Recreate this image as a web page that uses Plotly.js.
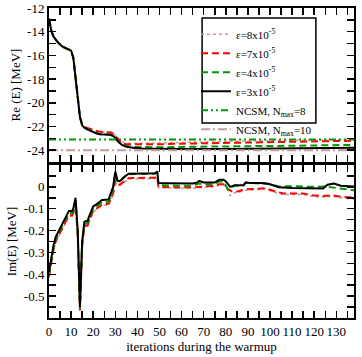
<!DOCTYPE html>
<html>
<head>
<meta charset="utf-8">
<script src="https://cdn.plot.ly/plotly-3.0.1.min.js"></script>
<style>
  html, body { margin: 0; padding: 0; background: white; }
  #chart { width: 362px; height: 357px; }
</style>
</head>
<body>
<div id="chart"></div>
<script>
// Re(E) curves
const reX3 = [0, 1, 2, 4, 6, 8, 10, 11, 12, 13, 14, 15, 16, 17, 19, 21, 23, 26, 28, 29, 30, 31, 32, 33, 35, 38, 42, 50, 60, 80, 100, 110, 120, 130, 138];
const reY3 = [-12.9, -13.9, -14.4, -14.9, -15.25, -15.45, -15.6, -16.2, -17.8, -19.8, -21.2, -21.9, -22.1, -22.2, -22.4, -22.55, -22.65, -22.7, -22.7, -22.8, -22.95, -23.2, -23.4, -23.55, -23.7, -23.8, -23.85, -23.88, -23.9, -23.9, -23.88, -23.85, -23.85, -23.8, -23.8];

const reX4 = [0, 1, 2, 4, 6, 8, 10, 11, 12, 13, 14, 15, 16, 17, 19, 21, 23, 26, 28, 29, 30, 31, 32, 33, 35, 38, 42, 50, 60, 80, 100, 120, 138];
const reY4 = [-12.9, -13.9, -14.4, -14.9, -15.25, -15.45, -15.6, -16.2, -17.8, -19.8, -21.2, -21.9, -22.1, -22.2, -22.4, -22.55, -22.65, -22.7, -22.7, -22.8, -22.95, -23.2, -23.4, -23.5, -23.65, -23.72, -23.75, -23.75, -23.72, -23.7, -23.65, -23.6, -23.55];

const reX7 = [0, 1, 2, 4, 6, 8, 10, 11, 12, 13, 14, 15, 16, 17, 19, 21, 23, 26, 28, 29, 30, 31, 32, 33, 35, 40, 50, 60, 80, 100, 120, 138];
const reY7 = [-12.9, -13.9, -14.4, -14.9, -15.25, -15.45, -15.55, -16.2, -17.8, -19.8, -21.2, -21.8, -22.0, -22.1, -22.25, -22.35, -22.45, -22.5, -22.5, -22.6, -22.8, -23.05, -23.25, -23.4, -23.5, -23.52, -23.5, -23.45, -23.38, -23.3, -23.25, -23.2];

const reX8 = [0, 1, 2, 4, 6, 8, 10, 11, 12, 13, 14, 15, 16, 17, 19, 21, 23, 26, 28, 29, 30, 31, 32, 33, 35, 40, 50, 60, 80, 100, 120, 138];
const reY8 = [-12.9, -13.9, -14.4, -14.9, -15.25, -15.45, -15.55, -16.2, -17.8, -19.8, -21.2, -21.8, -22.0, -22.1, -22.25, -22.35, -22.45, -22.5, -22.5, -22.6, -22.75, -23.0, -23.2, -23.3, -23.4, -23.42, -23.4, -23.35, -23.25, -23.2, -23.15, -23.1];

const ncsmX = [0, 138];
const ncsm8 = [-23.1, -23.1];
const ncsm10 = [-24.0, -24.0];

// Im(E) curves
const imX3 = [0, 1, 2, 3, 5, 7, 8, 9, 10.5, 11, 12, 13, 14, 15, 16, 17.5, 18, 20, 21.5, 23, 24, 27, 28, 29, 30, 31, 32, 34, 36, 48, 49, 49.5, 55, 60, 65, 67, 68, 70, 75, 77, 79, 80, 81, 82, 84, 88, 89, 91, 95, 98, 100, 104, 110, 120, 124, 126, 129, 132, 138];
const imY3 = [-0.39, -0.32, -0.27, -0.23, -0.19, -0.15, -0.13, -0.11, -0.11, -0.1, -0.05, -0.2, -0.55, -0.25, -0.16, -0.155, -0.14, -0.09, -0.08, -0.07, -0.06, -0.058, -0.03, 0.0, 0.07, 0.03, 0.025, 0.045, 0.06, 0.062, 0.07, 0.018, 0.017, 0.016, 0.016, 0.02, 0.027, 0.02, 0.02, 0.033, 0.033, 0.025, 0.01, 0.0, 0.008, 0.008, 0.02, 0.018, 0.018, 0.017, 0.012, -0.002, -0.005, -0.006, -0.008, 0.01, 0.015, 0.005, 0.002];

const imX4 = [0, 1, 2, 3, 5, 7, 8, 9, 10.5, 11, 12, 13, 14, 15, 16, 17.5, 18, 20, 21.5, 23, 24, 27, 28, 29, 30, 31, 32, 34, 36, 48, 49, 49.5, 55, 60, 65, 68, 70, 75, 77, 79, 81, 82, 84, 88, 89, 91, 95, 100, 104, 110, 120, 125, 130, 138];
const imY4 = [-0.4, -0.33, -0.28, -0.24, -0.2, -0.16, -0.14, -0.12, -0.12, -0.11, -0.06, -0.21, -0.555, -0.26, -0.17, -0.165, -0.15, -0.1, -0.09, -0.08, -0.07, -0.068, -0.04, -0.01, 0.06, 0.025, 0.022, 0.045, 0.058, 0.06, 0.065, 0.008, 0.006, 0.005, 0.005, 0.015, 0.01, 0.012, 0.025, 0.025, -0.012, -0.005, 0.005, 0.006, 0.02, 0.018, 0.015, 0.012, 0.002, 0.003, 0.0, 0.002, -0.005, -0.016];

const imX7 = [0, 1, 2, 3, 5, 7, 8, 9, 10.5, 11, 12, 13, 14, 15, 16, 17.5, 18, 20, 21.5, 23, 24, 27, 28, 29, 30, 31, 32, 34, 36, 48, 49, 49.5, 55, 60, 65, 68, 70, 75, 77, 79, 81, 83, 86, 88, 92, 98, 102, 106, 115, 120, 124, 128, 132, 138];
const imY7 = [-0.41, -0.34, -0.29, -0.25, -0.21, -0.17, -0.15, -0.13, -0.13, -0.12, -0.07, -0.22, -0.565, -0.27, -0.18, -0.175, -0.16, -0.11, -0.1, -0.09, -0.08, -0.078, -0.055, -0.03, 0.03, 0.012, 0.01, 0.025, 0.04, 0.042, 0.045, 0.0, -0.003, -0.003, -0.002, 0.0, 0.003, 0.005, 0.012, 0.012, -0.01, -0.022, -0.02, -0.012, -0.01, -0.006, -0.02, -0.03, -0.03, -0.04, -0.042, -0.038, -0.045, -0.05];

const imX8 = [0, 1, 2, 3, 5, 7, 8, 9, 10.5, 11, 12, 13, 14, 15, 16, 17.5, 18, 20, 21.5, 23, 24, 27, 28, 29, 30, 31, 32, 34, 36, 48, 49, 49.5, 55, 60, 65, 68, 70, 75, 77, 79, 81, 82, 83, 86, 88, 92, 98, 102, 106, 115, 120, 124, 128, 132, 138];
const imY8 = [-0.415, -0.345, -0.295, -0.255, -0.215, -0.175, -0.155, -0.135, -0.135, -0.125, -0.075, -0.225, -0.57, -0.275, -0.185, -0.18, -0.165, -0.115, -0.105, -0.095, -0.085, -0.083, -0.06, -0.035, 0.025, 0.008, 0.006, 0.02, 0.036, 0.038, 0.04, -0.004, -0.007, -0.007, -0.006, -0.004, -0.001, 0.001, 0.008, 0.008, -0.015, -0.04, -0.028, -0.025, -0.016, -0.014, -0.01, -0.025, -0.035, -0.035, -0.045, -0.047, -0.043, -0.05, -0.055];

// tick labels
const xTicks = [];
const xText = [];
for (let v = 0; v <= 135; v += 5) {
  xTicks.push(v);
  xText.push(v % 10 === 0 ? String(v) : " ");
}
const reTicks = [-24, -23, -22, -21, -20, -19, -18, -17, -16, -15, -14, -13, -12];
const reText = ["-24", " ", "-22", " ", "-20", " ", "-18", " ", "-16", " ", "-14", " ", "-12"];
const imTicks = [-0.55, -0.5, -0.45, -0.4, -0.35, -0.3, -0.25, -0.2, -0.15, -0.1, -0.05, 0, 0.05];
const imText = [" ", "-0.5", " ", "-0.4", " ", "-0.3", " ", "-0.2", " ", "-0.1", " ", "0", " "];

const PINK = "#c49a9a";
const RED = "#ff0000";
const GREEN = "#009a00";
const BLACK = "#000000";

const traces = [
  { x: reX8, y: reY8, xaxis: "x2", yaxis: "y2", name: "ε=8x10<sup>-5</sup>", mode: "lines", line: { color: PINK, width: 1.5, dash: "dot" } },
  { x: reX7, y: reY7, xaxis: "x2", yaxis: "y2", name: "ε=7x10<sup>-5</sup>", mode: "lines", line: { color: RED, width: 2, dash: "7px,4px" } },
  { x: reX4, y: reY4, xaxis: "x2", yaxis: "y2", name: "ε=4x10<sup>-5</sup>", mode: "lines", line: { color: GREEN, width: 2, dash: "7px,4px" } },
  { x: reX3, y: reY3, xaxis: "x2", yaxis: "y2", name: "ε=3x10<sup>-5</sup>", mode: "lines", line: { color: BLACK, width: 2 } },
  { x: ncsmX, y: ncsm8, xaxis: "x2", yaxis: "y2", name: "NCSM, N<sub>max</sub>=8", mode: "lines", line: { color: GREEN, width: 2, dash: "7px,3px,2px,3px,2px,3px" } },
  { x: ncsmX, y: ncsm10, xaxis: "x2", yaxis: "y2", name: "NCSM, N<sub>max</sub>=10", mode: "lines", line: { color: PINK, width: 2, dash: "9px,3px,2px,3px" } },

  { x: imX8, y: imY8, name: "e8", showlegend: false, mode: "lines", line: { color: PINK, width: 1.5, dash: "dot" } },
  { x: imX7, y: imY7, name: "e7", showlegend: false, mode: "lines", line: { color: RED, width: 2, dash: "7px,4px" } },
  { x: imX4, y: imY4, name: "e4", showlegend: false, mode: "lines", line: { color: GREEN, width: 2, dash: "7px,4px" } },
  { x: imX3, y: imY3, name: "e3", showlegend: false, mode: "lines", line: { color: BLACK, width: 2 } },
];

const fontFam = "Liberation Serif";

const axisBase = {
  showgrid: false,
  zeroline: false,
  showline: true,
  linecolor: "black",
  linewidth: 2,
  mirror: "allticks",
  ticks: "inside",
  ticklen: 7,
  tickwidth: 1.5,
  tickcolor: "black",
  tickangle: 0,
  tickfont: { family: fontFam, size: 13, color: "black" },
};

const layout = {
  width: 362,
  height: 357,
  margin: { l: 49, r: 8, t: 8, b: 39 },
  paper_bgcolor: "white",
  plot_bgcolor: "white",
  font: { family: fontFam, color: "black" },
  xaxis: Object.assign({}, axisBase, {
    range: [0, 138],
    tickmode: "array",
    tickvals: xTicks,
    ticktext: xText,
    anchor: "y",
    title: { text: "iterations during the warmup", font: { family: fontFam, size: 13 }, standoff: 2 },
  }),
  xaxis2: Object.assign({}, axisBase, {
    range: [0, 138],
    tickmode: "array",
    tickvals: xTicks,
    ticktext: xText,
    showticklabels: false,
    anchor: "y2",
    matches: "x",
  }),
  yaxis: Object.assign({}, axisBase, {
    domain: [0, 0.4935],
    range: [-0.6, 0.1],
    tickmode: "array",
    tickvals: imTicks,
    ticktext: imText,
    anchor: "x",
    title: { text: "Im(E) [MeV]", font: { family: fontFam, size: 13 }, standoff: 4 },
  }),
  yaxis2: Object.assign({}, axisBase, {
    domain: [0.503, 1],
    range: [-25, -12],
    tickmode: "array",
    tickvals: reTicks,
    ticktext: reText,
    anchor: "x2",
    title: { text: "Re (E) [MeV]", font: { family: fontFam, size: 13 }, standoff: 4 },
  }),
  // legend frame
  shapes: [
    {
      type: "rect", xref: "paper", yref: "paper",
      x0: 0.502, x1: 0.875, y0: 0.629, y1: 0.968,
      line: { color: "black", width: 1.5 },
      fillcolor: "white",
      layer: "above",
    },
  ],
  showlegend: true,
  legend: {
    x: 0.482,
    y: 0.962,
    xanchor: "left",
    yanchor: "top",
    bgcolor: "rgba(0,0,0,0)",
    borderwidth: 0,
    font: { family: fontFam, size: 11, color: "black" },
    itemwidth: 30,
    tracegroupgap: 0,
  },
};

Plotly.newPlot("chart", traces, layout, { staticPlot: true, displayModeBar: false });
</script>
</body>
</html>
